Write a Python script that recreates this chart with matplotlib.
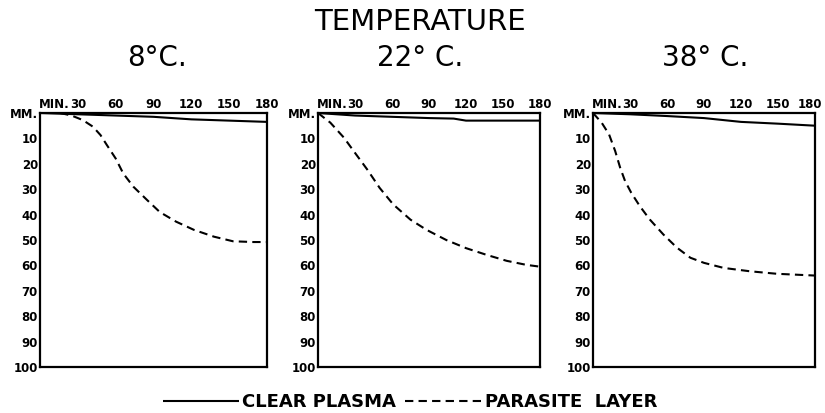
import matplotlib
matplotlib.use("Agg")
import matplotlib.pyplot as plt
from matplotlib.transforms import ScaledTranslation

# ---- data ----
temps = ["8°C.", "22° C.", "38° C."]

plasma_t = [
    [0, 30, 60, 90, 120, 150, 180],
    [0, 30, 60, 90, 110, 120, 150, 180],
    [0, 30, 60, 90, 120, 150, 180],
]
plasma_mm = [
    [0, 0.5, 1.0, 1.5, 2.5, 3.0, 3.5],
    [0, 1.0, 1.5, 2.0, 2.2, 3.0, 3.0, 3.0],
    [0, 0.5, 1.2, 2.0, 3.5, 4.2, 5.0],
]

parasite_t = [
    [16, 25, 34, 42, 48, 53, 60, 66, 74, 85, 95, 108, 122, 138, 153, 169, 180],
    [0, 10, 21, 30, 40, 50, 61, 75, 88, 104, 120, 137, 153, 169, 180],
    [0, 7, 13, 18, 22, 26, 31, 38, 46, 57, 68, 79, 90, 106, 127, 149, 180],
]
parasite_mm = [
    [0, 1, 2.8, 5.4, 8.7, 12.6, 17.9, 23.8, 29, 34.3, 39, 42.8, 46, 48.7, 50.5, 50.8, 50.8],
    [0, 3.8, 9.7, 15.7, 22.3, 29.5, 36, 42, 46, 50, 53.2, 55.9, 58.2, 59.8, 60.5],
    [0, 3.8, 8.4, 15, 21.5, 26.8, 31.4, 36.7, 41.9, 47.8, 53, 57, 59, 61, 62.3, 63.3, 64],
]

x_ticks = [30, 60, 90, 120, 150, 180]
y_ticks = [0, 10, 20, 30, 40, 50, 60, 70, 80, 90, 100]
y_labels = ["MM."] + [str(v) for v in y_ticks[1:]]

title = "TEMPERATURE"
legend_labels = ["CLEAR PLASMA", "PARASITE  LAYER"]

# ---- layout ----
W, H = 825, 413
fig = plt.figure(figsize=(W / 100, H / 100), dpi=100)
fig.patch.set_facecolor("white")

tickfont = dict(family="DejaVu Sans", weight="bold", size=8.5)

boxes = [(40, 227), (318, 222), (593, 222)]
top_px, bot_px = 113, 367
sub_x = [157, 420, 705]

handles = None
for i, (lx, wd) in enumerate(boxes):
    ax = fig.add_axes([lx / W, (H - bot_px) / H, wd / W, (bot_px - top_px) / H])
    ax.set_xlim(0, 180)
    ax.set_ylim(100, 0)
    l1, = ax.plot(plasma_t[i], plasma_mm[i], color="black", lw=1.5, solid_capstyle="butt")
    l2, = ax.plot(parasite_t[i], parasite_mm[i], color="black", lw=1.5,
                  linestyle=(0, (4, 2.5)))
    handles = (l1, l2)
    for s in ax.spines.values():
        s.set_linewidth(1.6)
    ax.xaxis.tick_top()
    ax.set_xticks(x_ticks)
    ax.set_xticklabels([str(v) for v in x_ticks], fontdict=tickfont)
    ax.set_yticks(y_ticks)
    ax.set_yticklabels(y_labels, fontdict=tickfont)
    ax.tick_params(axis="both", length=0, pad=1.5)
    if i == 2:
        lab = ax.get_xticklabels()[-1]
        lab.set_transform(lab.get_transform() + ScaledTranslation(-5 / 100, 0, fig.dpi_scale_trans))
    ax.annotate("MIN.", xy=(30, 1), xycoords=("data", "axes fraction"),
                xytext=(-5.6, 1.5), textcoords="offset points",
                ha="right", va="bottom", **tickfont)
    fig.text(sub_x[i] / W, 1 - 58 / H, temps[i], ha="center", va="center",
             family="DejaVu Sans", fontsize=20)

fig.text(420 / W, 1 - 22 / H, title, ha="center", va="center",
         family="DejaVu Sans", fontsize=21)

leg = fig.legend(handles, legend_labels, loc="center", bbox_to_anchor=(410 / W, 1 - 402 / H),
                 ncol=2, frameon=False, handlelength=4.2, handletextpad=0.2,
                 columnspacing=0.5, prop=dict(family="DejaVu Sans", weight="bold", size=13))

fig.savefig("out.png", dpi=100, facecolor="white")
